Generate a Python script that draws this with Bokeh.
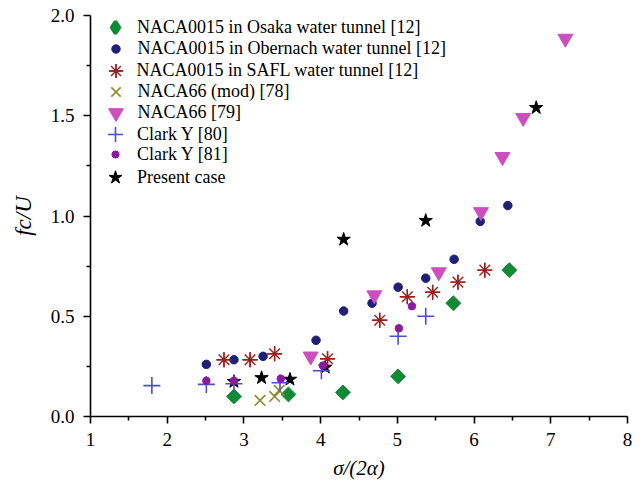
import numpy as np
from bokeh.plotting import figure
from bokeh.models import (FixedTicker, NumeralTickFormatter, Legend, LegendItem, Range1d)
from bokeh.embed import file_html
from bokeh.resources import INLINE

# ---- data ----
osaka_x = [2.87, 3.58, 4.29, 5.01, 5.73, 6.46]
osaka_y = [0.10, 0.11, 0.12, 0.20, 0.565, 0.73]

obernach_x = [2.51, 2.87, 3.25, 3.94, 4.30, 4.67, 5.01, 5.37, 5.74, 6.08, 6.44]
obernach_y = [0.26, 0.283, 0.30, 0.38, 0.526, 0.565, 0.645, 0.69, 0.784, 0.973, 1.052]

safl_x = [2.74, 3.08, 3.40, 4.09, 4.77, 5.13, 5.46, 5.79, 6.14]
safl_y = [0.283, 0.283, 0.313, 0.288, 0.48, 0.597, 0.62, 0.67, 0.73]

mod_x = [3.21, 3.40, 3.46]
mod_y = [0.08, 0.10, 0.13]

n66_x = [3.87, 4.70, 5.54, 6.09, 6.37, 6.64, 7.19]
n66_y = [0.30, 0.605, 0.72, 1.02, 1.295, 1.49, 1.885]

clarky80_x = [1.80, 2.51, 2.87, 3.47, 4.01, 5.01, 5.37]
clarky80_y = [0.154, 0.16, 0.163, 0.168, 0.228, 0.40, 0.50]

clarky81_x = [2.51, 2.87, 3.48, 4.03, 5.02, 5.19]
clarky81_y = [0.178, 0.178, 0.188, 0.254, 0.44, 0.55]

present_x = [2.87, 3.23, 3.60, 4.06, 4.30, 5.37, 6.81]
present_y = [0.174, 0.193, 0.185, 0.245, 0.883, 0.977, 1.54]

labels = [
    "NACA0015 in Osaka water tunnel [12]",
    "NACA0015 in Obernach water tunnel [12]",
    "NACA0015 in SAFL water tunnel [12]",
    "NACA66 (mod) [78]",
    "NACA66 [79]",
    "Clark Y [80]",
    "Clark Y [81]",
    "Present case",
]
x_ticks = [1, 2, 3, 4, 5, 6, 7, 8]
y_ticks = [0.0, 0.5, 1.0, 1.5, 2.0]

FONT = "Liberation Serif"
GREEN, NAVY, RED, OLIVE = "#108a35", "#1f1f78", "#9a1f1f", "#8c8a2c"
PINK, BLUE, PURPLE = "#cc4fbe", "#4a4fc9", "#8a1b9e"

W, H = 642, 482
BL, BR, BT, BB = 90, 15, 15, 64
FRAME_BOTTOM = H - BB

p = figure(width=W, height=H, output_backend="svg", toolbar_location=None,
           x_range=Range1d(1, 8), y_range=Range1d(0, 2.0),
           min_border_left=BL, min_border_right=BR, min_border_top=BT, min_border_bottom=BB)
p.outline_line_color = None
p.xgrid.visible = False
p.ygrid.visible = False
p.background_fill_color = "white"
p.border_fill_color = "white"

# render order: stars at bottom
r_star = p.scatter(present_x, present_y, marker="star", size=14, fill_color="black", line_color="black")
r_osaka = p.scatter(osaka_x, osaka_y, marker="square", angle=np.pi / 4, size=10.5,
                    fill_color=GREEN, line_color=GREEN)
r_ober = p.scatter(obernach_x, obernach_y, marker="circle", size=8.5,
                   fill_color=NAVY, line_color=NAVY)
r_safl1 = p.scatter(safl_x, safl_y, marker="asterisk", size=15, line_color=RED, line_width=1.4)
r_safl2 = p.scatter(safl_x, safl_y, marker="cross", size=15, line_color=RED, line_width=1.4)
r_mod = p.scatter(mod_x, mod_y, marker="x", size=15, line_color=OLIVE, line_width=1.6)
r_n66 = p.scatter(n66_x, n66_y, marker="inverted_triangle", size=15,
                  fill_color=PINK, line_color=PINK)
r_c80 = p.scatter(clarky80_x, clarky80_y, marker="cross", size=17, line_color=BLUE, line_width=1.6)
r_c81 = p.scatter(clarky81_x, clarky81_y, marker="circle", size=7.5,
                  fill_color=PURPLE, line_color=PURPLE)

# legend-only key glyph for the diamond (legend keys are drawn unrotated)
k_osaka = p.scatter(osaka_x, osaka_y, marker="diamond", fill_color=GREEN, line_color=GREEN,
                    line_width=3.5, visible=False)

# one single-entry legend per row, so each key gets its own marker size
# (glyph box size, row centre y in pixels)
rows = [
    ([k_osaka], 30, 25),
    ([r_ober], 21, 46.5),
    ([r_safl1, r_safl2], 35, 68),
    ([r_mod], 33, 89.5),
    ([r_n66], 37, 110.5),
    ([r_c80], 38, 132),
    ([r_c81], 18, 153.5),
    ([r_star], 34, 175),
]
ROW_SHIFT = 4         # measured offset of Bokeh's legend placement
KEY_X = 115 - BL      # key centre, px right of the frame's left edge
TEXT_X = 137 - BL     # label start, px right of the frame's left edge
for (rends, box, cy), lab in zip(rows, labels):
    vx = KEY_X - box / 2
    vy = FRAME_BOTTOM - (cy + ROW_SHIFT) - box / 2
    lg = Legend(items=[LegendItem(label=lab, renderers=rends)], location=(vx, vy),
                border_line_color=None, background_fill_alpha=0, padding=0, margin=0,
                spacing=0, glyph_width=box, glyph_height=box, label_height=18,
                label_standoff=int(round(TEXT_X - vx - box)),
                label_text_font=FONT, label_text_font_size="18px", label_text_color="black")
    p.add_layout(lg, "center")

for ax in (p.xaxis[0], p.yaxis[0]):
    ax.axis_line_color = "black"
    ax.axis_line_width = 1.6
    ax.major_tick_line_color = "black"
    ax.major_tick_line_width = 1.6
    ax.minor_tick_line_color = "black"
    ax.minor_tick_line_width = 1.6
    ax.major_tick_in = 0
    ax.major_tick_out = 7
    ax.minor_tick_in = 0
    ax.minor_tick_out = 4
    ax.major_label_text_font = FONT
    ax.major_label_text_font_size = "19px"
    ax.major_label_text_color = "black"
    ax.axis_label_text_font = FONT
    ax.axis_label_text_color = "black"
    ax.axis_label_text_font_style = "italic"

p.xaxis[0].ticker = FixedTicker(ticks=x_ticks, minor_ticks=[1.5, 2.5, 3.5, 4.5, 5.5, 6.5, 7.5])
p.yaxis[0].ticker = FixedTicker(ticks=y_ticks, minor_ticks=[0.25, 0.75, 1.25, 1.75])
p.yaxis[0].formatter = NumeralTickFormatter(format="0.0")
p.xaxis[0].axis_label = "σ/(2α)"
p.yaxis[0].axis_label = "fc/U"
p.xaxis[0].axis_label_text_font_size = "21px"
p.yaxis[0].axis_label_text_font_size = "23px"
p.xaxis[0].major_label_standoff = 9
p.yaxis[0].major_label_standoff = 9
p.xaxis[0].axis_label_standoff = 7
p.yaxis[0].axis_label_standoff = 12

open("out.html", "w").write(file_html(p, INLINE))
